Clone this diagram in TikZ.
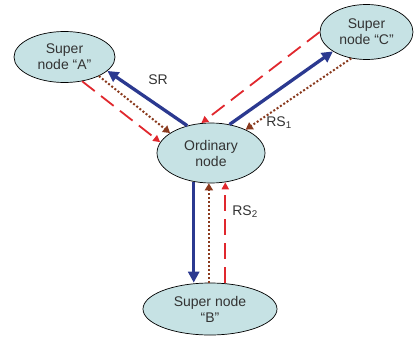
\documentclass[tikz,border=0pt]{standalone}
\usepackage{fontspec}
\setmainfont{Liberation Sans}
\usetikzlibrary{shapes.geometric,arrows.meta,calc}
\definecolor{nodefill}{HTML}{C6E2E4}
\definecolor{srblue}{HTML}{2B3990}
\definecolor{rsred}{HTML}{E0282E}
\definecolor{rsbrown}{HTML}{8A3A1E}
\begin{document}
\begin{tikzpicture}[x=1pt,y=-1pt,
  peer/.style={ellipse,draw=black,line width=0.7pt,fill=nodefill,inner sep=0pt,align=center,
     font=\fontsize{14}{16}\selectfont,text=black!80},
  srline/.style={draw=srblue,line width=3.3pt,-{Triangle[length=11pt,width=11pt]}},
  redline/.style={draw=rsred,line width=1.8pt,dash pattern=on 16pt off 8pt,-{Triangle[length=7pt,width=7pt]}},
  brownline/.style={draw=rsbrown,line width=2pt,dash pattern=on 2pt off 2pt,-{Triangle[length=7pt,width=8pt]}},
  lbl/.style={font=\fontsize{14}{16}\selectfont,text=black!80,inner sep=0pt}]
\useasboundingbox (0,0) rectangle (414,340);
\node[peer,minimum width=101pt,minimum height=51pt] (A) at (64.5,57) {Super\\node “A”};
\node[peer,minimum width=93pt,minimum height=55pt] (C) at (366.5,32) {Super\\node “C”};
\node[peer,minimum width=108pt,minimum height=60pt] (O) at (211,153) {Ordinary\\node};
\node[peer,minimum width=134pt,minimum height=52pt] (B) at (210,309) {Super node\\“B”};
% A side
\draw[srline] (O.131) -- (A.-18);
\draw[brownline] (A.-29) -- (O.154);
\draw[redline] (A.-54) -- (O.168);
% C side
\draw[redline] (C.180) -- (O.108);
\draw[srline] (O.57) -- (C.-150);
\draw[brownline] (C.-120) -- (O.34);
% B side
\draw[srline] (O.-121) -- (O.-121 |- B.north);
\draw[brownline] (O.-94 |- B.north) -- (O.-94);
\draw[redline] (O.-64 |- B.north) -- (O.-64);
% labels
\node[lbl] (sr) at (158,80) {SR};
\node[lbl] (rs1) at (279,123) {RS\textsubscript{1}};
\node[lbl] (rs2) at (245,212) {RS\textsubscript{2}};
\end{tikzpicture}
\end{document}
